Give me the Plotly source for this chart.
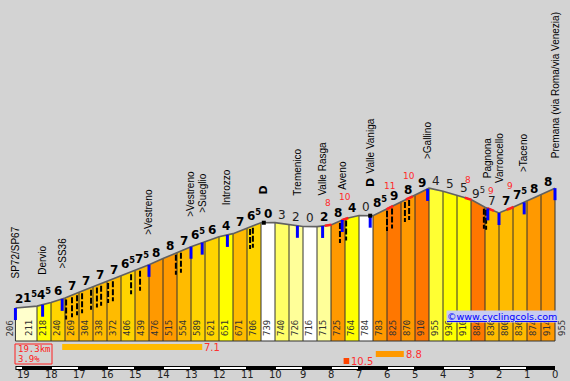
import numpy as np
import plotly.graph_objects as go

# ---------------- data ----------------
km = [19.27, 19.0, 18.5, 18.0, 17.5, 17.0, 16.5, 16.0, 15.5, 15.0, 14.5, 14.0, 13.5, 13.0,
      12.5, 12.0, 11.5, 11.0, 10.5, 10.0, 9.5, 9.0, 8.5, 8.0, 7.5, 7.0, 6.5, 6.0, 5.5, 5.0,
      4.5, 4.0, 3.5, 3.0, 2.5, 2.0, 1.5, 1.0, 0.5, 0.0]
alt = [206, 211, 218, 240, 269, 304, 338, 372, 406, 439, 476, 515, 554, 589, 621, 651, 671,
       706, 739, 740, 726, 716, 715, 725, 764, 784, 783, 825, 870, 910, 955, 936, 910, 884,
       836, 800, 836, 874, 914, 955]

place_names = ["SP72/SP67", "Dervio", ">SS36", ">Vestreno", ">Vestreno", ">Sueglio",
               "Introzzo", "Tremenico", "Valle Rasga", "Aveno", "Valle Vaniga", ">Gallino",
               "Pagnona", "Varroncello", ">Taceno", "Premana (via Roma/via Venezia)"]
place_km = [19.27, 18.3, 17.6, 14.5, 13.0, 12.6, 11.7, 9.2, 8.3, 7.6, 6.6, 4.55, 2.4, 2.0, 1.1, 0.0]

hairpin_km = [17.46, 17.25, 17.07, 16.89, 16.57, 16.36, 16.21, 15.96, 15.79, 15.14, 14.82,
              13.54, 13.36, 10.89, 10.79, 7.68, 7.46, 6.0, 5.82, 5.36, 5.21, 2.54, 2.46]
tunnel_km = [10.4, 6.6]

steep_km = [8.1, 7.5, 5.9, 5.2, 3.1, 2.3, 1.6]
steep_max = [8, 10, 11, 10, 8, 9, 9]

climb_from = [17.6, 7.55, 6.4]
climb_to = [12.6, 7.35, 5.4]
climb_grad = [7.1, 10.5, 8.8]

km_ticks = list(range(0, 20))

# ---------------- geometry helpers (layout only) ----------------
W, H = 570, 381
X_KM0, PX_KM = 555.0, 28.0      # pixel x of km 0, pixels per km
Y_ALT0, PX_M = 341.0, 0.16      # pixel y of altitude 0, pixels per metre
xr = [X_KM0 / PX_KM, (X_KM0 - W) / PX_KM]
yr = [(Y_ALT0 - H) / PX_M, Y_ALT0 / PX_M]
def px(p): return p / W
def py(p): return 1 - p / H
def m(pxl): return pxl / PX_M   # pixel length -> metres

km_a = np.array(km); alt_a = np.array(alt)
def alt_at(k): return float(np.interp(k, km_a[::-1], alt_a[::-1]))

def grad_color(g):
    a = abs(g)
    for lim, c in [(1, '#FFFFFF'), (1.9, '#FFFFCC'), (2.5, '#FFFF99'), (3.5, '#FFFF66'),
                   (3.9, '#FFFF33'), (5.5, '#FFFF00'), (6.7, '#FFD400'), (7.7, '#FFBB00'),
                   (8.9, '#FF9900'), (10, '#FF7700')]:
        if a < lim:
            return c
    return '#FF4400'

grads = [(alt[i + 1] - alt[i]) / ((km[i] - km[i + 1]) * 1000) * 100 for i in range(len(km) - 1)]

fig = go.Figure()

# coloured segments
for i, g in enumerate(grads):
    fig.add_trace(go.Scatter(x=[km[i], km[i], km[i + 1], km[i + 1], km[i]],
                             y=[0, alt[i], alt[i + 1], 0, 0], mode='lines', fill='toself',
                             fillcolor=grad_color(g), line=dict(width=0), hoverinfo='skip'))

# segment borders
bx, by = [], []
for i in range(len(km)):
    if i == 1:
        continue
    bx += [km[i], km[i], None]; by += [0, alt[i], None]
fig.add_trace(go.Scatter(x=bx, y=by, mode='lines', line=dict(color='#333333', width=1), hoverinfo='skip'))
fig.add_trace(go.Scatter(x=[km[0], km[-1]], y=[0, 0], mode='lines', line=dict(color='#333333', width=1), hoverinfo='skip'))

# profile line
fig.add_trace(go.Scatter(x=km, y=alt, mode='lines', line=dict(color='#606060', width=1.6), hoverinfo='skip'))

# steep sections (red)
for k in steep_km:
    ks = [k + 0.12, k, k - 0.12]
    fig.add_trace(go.Scatter(x=ks, y=[alt_at(v) for v in ks], mode='lines',
                             line=dict(color='#FF2020', width=2.5), hoverinfo='skip'))

# hairpins
hx, hy = [], []
for k in hairpin_km:
    a = alt_at(k)
    hx += [k, k, None]; hy += [a - m(2), a - m(22), None]
fig.add_trace(go.Scatter(x=hx, y=hy, mode='lines', line=dict(color='black', width=2, dash='6px,2px'), hoverinfo='skip'))

# place ticks
tx, ty = [], []
for k in place_km:
    a = alt_at(k)
    tx += [k, k, None]; ty += [a, a - m(12), None]
fig.add_trace(go.Scatter(x=tx, y=ty, mode='lines', line=dict(color='#0000FF', width=3), hoverinfo='skip'))

# tunnels
fig.add_trace(go.Scatter(x=tunnel_km, y=[alt_at(k) for k in tunnel_km], mode='markers',
                         marker=dict(symbol='square', size=4, color='black'), hoverinfo='skip'))

ann = []
# altitude labels
for i, (k, a) in enumerate(zip(km, alt)):
    xs = 6
    if i == 0: xs = -5
    if i == len(km) - 1: xs = 7
    ann.append(dict(x=k, y=0, text=str(a), textangle=-90, showarrow=False, yanchor='bottom',
                    xanchor='center', yshift=3, xshift=xs,
                    font=dict(family='DejaVu Sans Mono', size=9, color='#333333')))

# gradient labels
for i, g in enumerate(grads):
    r = round(abs(g) * 2) / 2
    t = str(int(r)) + ('<sup>5</sup>' if r % 1 else '')
    ann.append(dict(x=(km[i] + km[i + 1]) / 2, y=(alt[i] + alt[i + 1]) / 2, text=t, showarrow=False,
                    yanchor='bottom', xanchor='center', yshift=0,
                    font=dict(family='DejaVu Sans', size=12, color='black' if g > 0 else '#222222',
                              weight='bold' if g > 0 else 'normal')))

# steep numbers
for k, v in zip(steep_km, steep_max):
    up = alt_at(k - 0.05) > alt_at(k + 0.05)
    ann.append(dict(x=k, y=alt_at(k), text=str(v), showarrow=False, yanchor='middle', borderpad=0,
                    yshift=22 if up else 19, font=dict(family='DejaVu Sans', size=9, color='#FF2A2A')))

# tunnel symbols
for k in tunnel_km:
    ann.append(dict(x=k, y=alt_at(k), text='<b>D</b>', textangle=-90, showarrow=False,
                    yanchor='middle', yshift=33, font=dict(family='DejaVu Sans', size=11, color='black')))

# place names
for name, k in zip(place_names, place_km):
    extra = 12 if any(abs(k - t) < 0.15 for t in tunnel_km) else 0
    ann.append(dict(x=k, y=alt_at(k), text=name, textangle=-90, showarrow=False,
                    yanchor='bottom', xanchor='center', yshift=28 + extra,
                    font=dict(family='Liberation Sans', size=10, color='black')))

# summary box
shapes = [dict(type='rect', xref='paper', yref='paper', x0=px(15), x1=px(52), y0=py(364), y1=py(344),
               line=dict(color='#FF2020', width=1), fillcolor='rgba(0,0,0,0)')]
ann.append(dict(xref='paper', yref='paper', x=px(17), y=py(348.5), text=f"{km[0]:.1f}km", showarrow=False,
                xanchor='left', yanchor='middle', borderpad=0,
                font=dict(family='DejaVu Sans Mono', size=9, color='#FF2020')))
avg = (alt[-1] - alt[0]) / (km[0] * 1000) * 100
ann.append(dict(xref='paper', yref='paper', x=px(17), y=py(358.5), text=f"{avg:.1f}%", showarrow=False,
                xanchor='left', yanchor='middle', borderpad=0,
                font=dict(family='DejaVu Sans Mono', size=9, color='#FF2020')))

# climb sections
for a0, a1, g in zip(climb_from, climb_to, climb_grad):
    row = 0 if g < 8 else (1 if g < 10 else 2)
    top = 344 + 7 * row
    shapes.append(dict(type='rect', xref='x', yref='paper', x0=a0, x1=a1, y0=py(top + 6), y1=py(top),
                       line=dict(width=0), fillcolor=grad_color(g)))
    ann.append(dict(x=a1, xref='x', yref='paper', y=py(top + 3), text=f"{g:.1f}", showarrow=False,
                    xanchor='left', yanchor='middle', xshift=1, borderpad=0,
                    font=dict(family='DejaVu Sans', size=10, color='#FF3030')))

# km stripe
shapes.append(dict(type='rect', xref='x', yref='paper', x0=km[0], x1=0, y0=py(370), y1=py(366),
                   line=dict(width=0), fillcolor='black'))
for k in km_ticks:
    if k % 2 == 1:
        shapes.append(dict(type='rect', xref='x', yref='paper', x0=min(k + 1, km[0]) - 1 / PX_KM,
                           x1=k + 1 / PX_KM, y0=py(369), y1=py(367), line=dict(width=0), fillcolor='white'))
for k in km_ticks:
    ann.append(dict(x=k, xref='x', yref='paper', y=py(374.5), text=str(k), showarrow=False,
                    xanchor='center', yanchor='middle', borderpad=0,
                    font=dict(family='DejaVu Sans', size=10, color='#222222')))

# copyright
ann.append(dict(xref='paper', yref='paper', x=px(558), y=py(316), text='<u>©www.cyclingcols.com</u>',
                showarrow=False, xanchor='right', yanchor='middle', bgcolor='#C8CCF0', borderpad=0,
                font=dict(family='DejaVu Sans', size=9.5, color='#0000FF')))

fig.update_layout(width=W, height=H, margin=dict(l=0, r=0, t=0, b=0), showlegend=False,
                  paper_bgcolor='#D3D3D3', plot_bgcolor='#D3D3D3',
                  xaxis=dict(range=xr, visible=False, fixedrange=True),
                  yaxis=dict(range=yr, visible=False, fixedrange=True),
                  annotations=ann, shapes=shapes)
fig.write_html("out.html", config={'displayModeBar': False},
               post_script="document.body.style.margin='0';document.body.style.overflow='hidden';")
